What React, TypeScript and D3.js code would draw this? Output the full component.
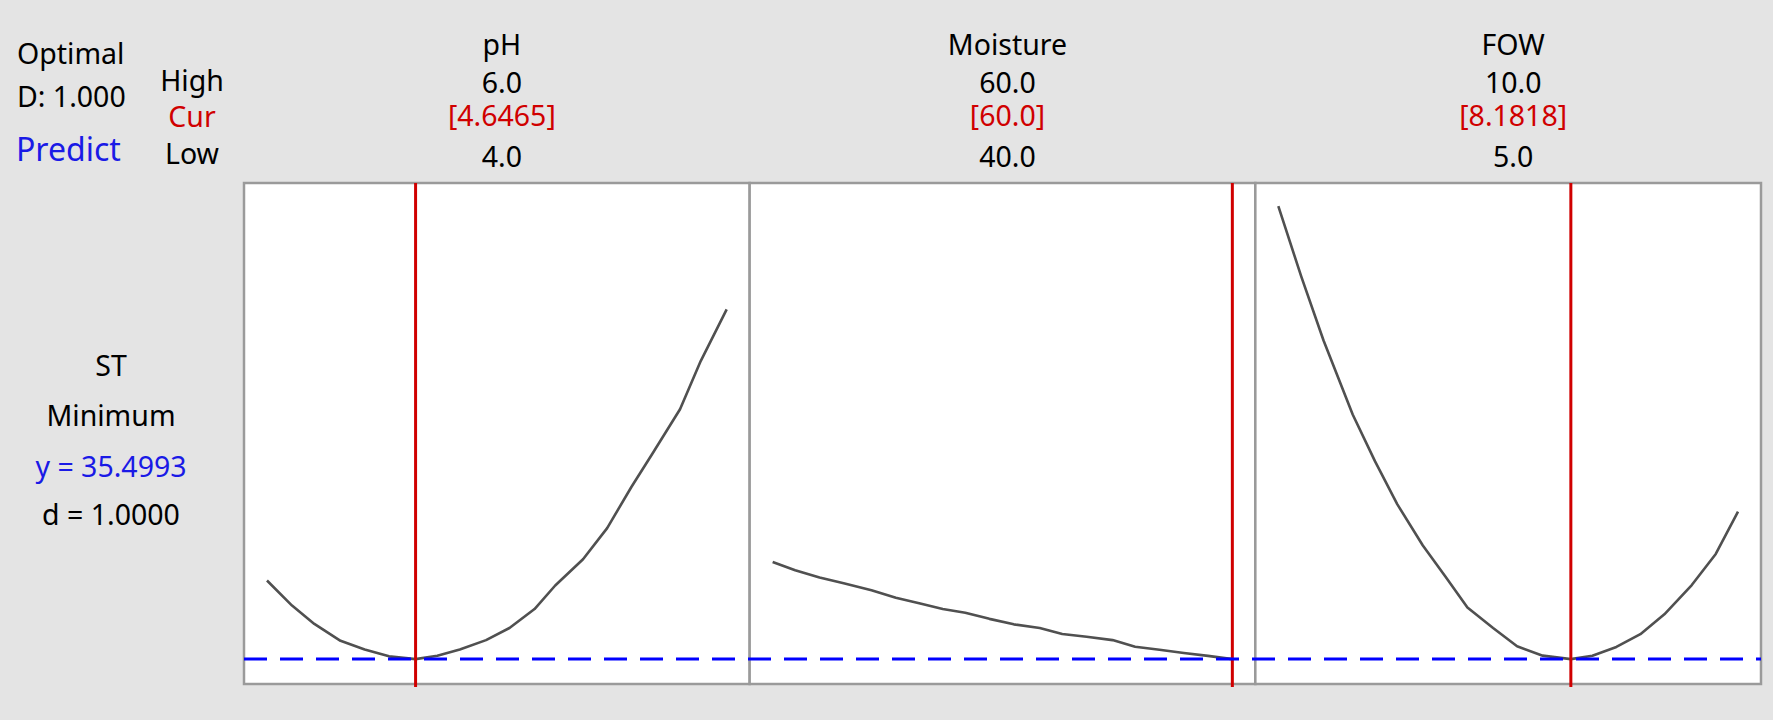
import { useEffect, useRef } from 'react';
import * as d3 from 'd3';

// factor header info
const factors = ['pH', 'Moisture', 'FOW'];
const highLabels = ['6.0', '60.0', '10.0'];
const curLabels = ['[4.6465]', '[60.0]', '[8.1818]'];
const lowLabels = ['4.0', '40.0', '5.0'];
const lows = [4, 40, 5];
const highs = [6, 60, 10];
const current = [4.6465, 60, 8.1818];

// response
const responseName = 'ST';
const goal = 'Minimum';
const predicted = 35.4993;
const desirability = '1.0000';
const yDomain = [34.41, 56.33];

// curve values
const phX = [4.0, 4.109, 4.206, 4.32, 4.425, 4.531, 4.6465, 4.741, 4.839, 4.953, 5.055, 5.164, 5.254, 5.375, 5.48, 5.586, 5.676, 5.797, 5.887, 6.0];
const phY = [38.94, 37.84, 37.04, 36.3, 35.92, 35.62, 35.4993, 35.65, 35.92, 36.33, 36.86, 37.69, 38.72, 39.87, 41.23, 43.04, 44.47, 46.43, 48.54, 50.8];

const moistX = [40, 40.98, 42.04, 43.09, 44.3, 45.36, 46.42, 47.4, 48.38, 49.43, 50.49, 51.62, 52.6, 53.66, 54.79, 55.77, 56.83, 57.89, 58.94, 60];
const moistY = [39.75, 39.39, 39.07, 38.82, 38.51, 38.18, 37.93, 37.69, 37.53, 37.26, 37.02, 36.86, 36.6, 36.48, 36.33, 36.04, 35.91, 35.77, 35.64, 35.4993];

const fowX = [5.0, 5.25, 5.492, 5.809, 6.051, 6.293, 6.572, 6.815, 7.057, 7.336, 7.597, 7.876, 8.1818, 8.416, 8.677, 8.938, 9.199, 9.497, 9.758, 10.0];
const fowY = [55.32, 52.23, 49.44, 46.2, 44.16, 42.28, 40.47, 39.12, 37.76, 36.86, 36.06, 35.65, 35.4993, 35.65, 36.03, 36.59, 37.46, 38.74, 40.1, 41.95];

const curvesX = [phX, moistX, fowX];
const curvesY = [phY, moistY, fowY];

const W = 1773;
const H = 720;
const FONT = '"Noto Sans", "Open Sans", sans-serif';

const App = () => {
    const svgRef = useRef(null);

    useEffect(() => {
        const svg = d3.select(svgRef.current);
        svg.selectAll('*').remove();

        const plotLeft = 244;
        const plotRight = 1761;
        const plotTop = 183;
        const plotBottom = 684;
        const panelW = (plotRight - plotLeft) / factors.length;

        const blue = '#1a1ae6';
        const red = '#d00000';

        svg.append('rect')
            .attr('width', W)
            .attr('height', H)
            .attr('fill', '#e4e4e4');

        const y = d3.scaleLinear().domain(yDomain).range([plotBottom, plotTop]);

        const txt = (x, yy, s, opts = {}) =>
            svg.append('text')
                .attr('x', x)
                .attr('y', yy)
                .attr('text-anchor', opts.anchor || 'middle')
                .attr('fill', opts.color || '#000')
                .style('font-family', FONT)
                .style('font-size', (opts.size || 28.5) + 'px')
                .text(s);

        // left header block
        txt(17, 64, 'Optimal', { anchor: 'start' });
        txt(17, 107, 'D: 1.000', { anchor: 'start' });
        txt(16, 161, 'Predict', { anchor: 'start', color: blue, size: 32 });
        txt(192, 91, 'High');
        txt(192, 127, 'Cur', { color: red });
        txt(192, 164, 'Low');

        // response block
        txt(111, 376, responseName);
        txt(111, 426, goal);
        txt(111, 477, `y = ${predicted.toFixed(4)}`, { color: blue });
        txt(111, 525, `d = ${desirability}`);

        const line = d3.line().curve(d3.curveLinear);

        factors.forEach((name, i) => {
            const x0 = plotLeft + i * panelW;
            const x1 = x0 + panelW;
            const pad = 0.05 * (highs[i] - lows[i]);
            const x = d3.scaleLinear()
                .domain([lows[i] - pad, highs[i] + pad])
                .range([x0, x1]);

            // headers
            const cx = (x0 + x1) / 2 + 5;
            txt(cx, 55, name);
            txt(cx, 93, highLabels[i]);
            txt(cx, 126, curLabels[i], { color: red });
            txt(cx, 167, lowLabels[i]);

            svg.append('rect')
                .attr('x', x0)
                .attr('y', plotTop)
                .attr('width', panelW)
                .attr('height', plotBottom - plotTop)
                .attr('fill', '#fff')
                .attr('stroke', '#9a9a9a')
                .attr('stroke-width', 2.5);

            const pts = curvesX[i].map((v, k) => [x(v), y(curvesY[i][k])]);
            svg.append('path')
                .attr('d', line(pts))
                .attr('fill', 'none')
                .attr('stroke', '#505050')
                .attr('stroke-width', 2.6)
                .attr('stroke-linejoin', 'round');
        });

        // current setting lines
        factors.forEach((_, i) => {
            const x0 = plotLeft + i * panelW;
            const pad = 0.05 * (highs[i] - lows[i]);
            const x = d3.scaleLinear()
                .domain([lows[i] - pad, highs[i] + pad])
                .range([x0, x0 + panelW]);
            svg.append('line')
                .attr('x1', x(current[i]))
                .attr('x2', x(current[i]))
                .attr('y1', plotTop)
                .attr('y2', plotBottom + 3)
                .attr('stroke', red)
                .attr('stroke-width', 3);
        });

        // predicted response line
        svg.append('line')
            .attr('x1', plotLeft)
            .attr('x2', plotRight)
            .attr('y1', y(predicted))
            .attr('y2', y(predicted))
            .attr('stroke', '#0000ff')
            .attr('stroke-width', 3)
            .attr('stroke-dasharray', '23 13');
    }, []);

    return (
        <svg
            ref={svgRef}
            width={W}
            height={H}
            style={{ position: 'absolute', left: 0, top: 0, display: 'block' }}
        />
    );
};

export default App;
